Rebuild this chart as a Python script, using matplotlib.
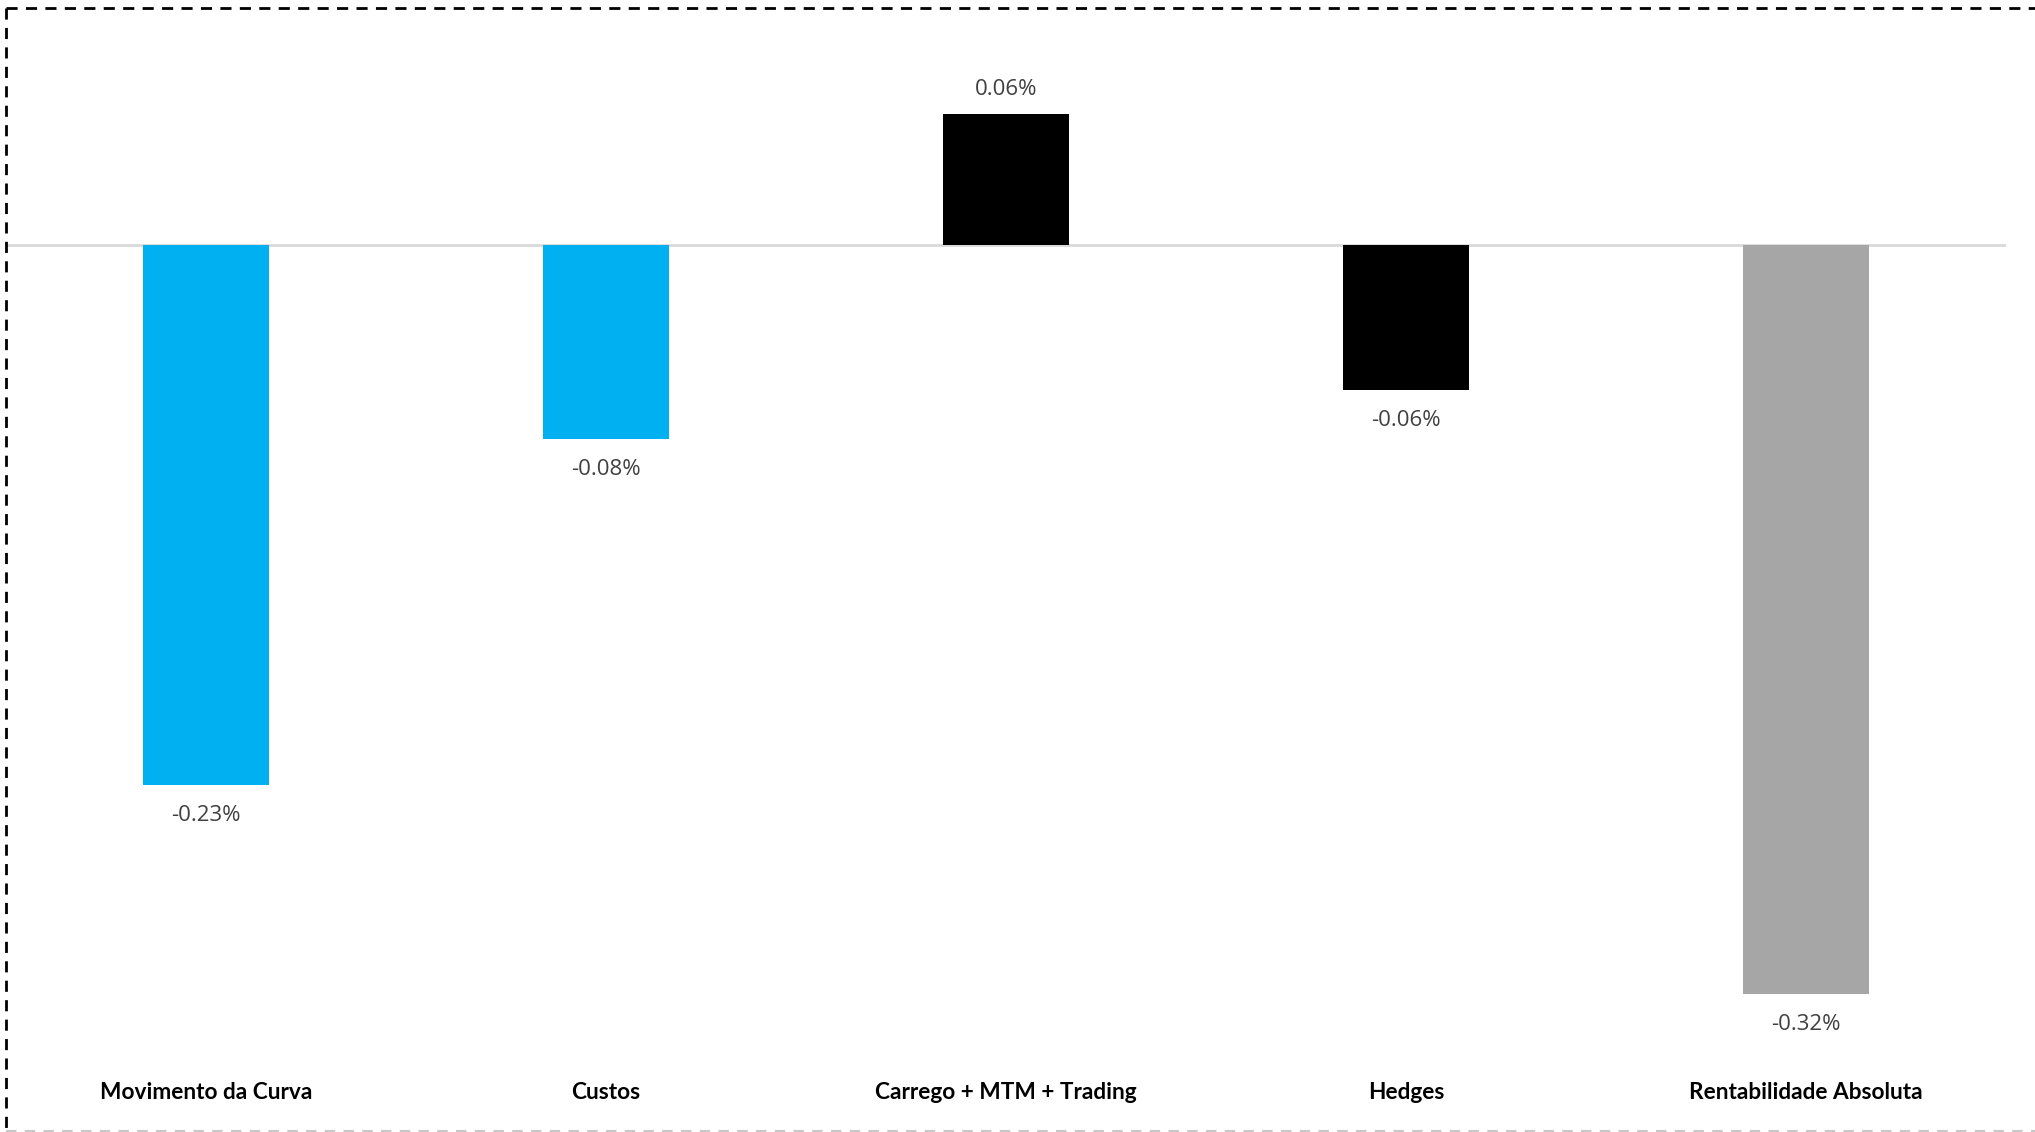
import matplotlib
matplotlib.use("Agg")
import matplotlib.pyplot as plt
from matplotlib.lines import Line2D

# Attribution of return (in %)
categories = ["Movimento da Curva", "Custos", "Carrego + MTM + Trading", "Hedges", "Rentabilidade Absoluta"]
values = [-0.231, -0.083, 0.056, -0.062, -0.320]
colors = ["#00b0f0", "#00b0f0", "#000000", "#000000", "#a6a6a6"]

W, H = 2035, 1132
fig = plt.figure(figsize=(W / 100, H / 100), dpi=100)

ax_top, ax_bot = 32, 1042
ax = fig.add_axes([6 / W, 1 - ax_bot / H, 2000 / W, (ax_bot - ax_top) / H])

x = range(len(categories))
ax.bar(x, values, width=0.315, color=colors, zorder=3)
ax.axhline(0, color="#d9d9d9", lw=2, zorder=2)

ax.set_xlim(-0.5, len(categories) - 0.5)
ax.set_ylim(-0.3407, 0.0911)

for i, v in enumerate(values):
    off = 18 if v >= 0 else -22
    ax.annotate("{:.2f}%".format(v), (i, v), xytext=(0, off), textcoords="offset points",
                ha="center", va="center", fontsize=16, color="#404040", family="Open Sans")

ax.set_xticks(list(x))
ax.set_xticklabels(categories, fontsize=16.3, fontweight="bold", family="Lato")
ax.tick_params(axis="x", length=0, pad=29)
ax.set_yticks([])
for s in ax.spines.values():
    s.set_visible(False)

# dashed frame around the chart
fig.add_artist(Line2D([6 / W, 1], [1 - 8 / H, 1 - 8 / H], color="black", lw=2, ls=(0, (4, 3))))
fig.add_artist(Line2D([6 / W, 6 / W], [1 - 8 / H, 1 / H], color="black", lw=2, ls=(0, (4, 3))))
fig.add_artist(Line2D([6 / W, 1], [1.5 / H, 1.5 / H], color="#c8c8c8", lw=1.5, ls=(0, (5, 4))))

fig.savefig("out.png", dpi=100)
